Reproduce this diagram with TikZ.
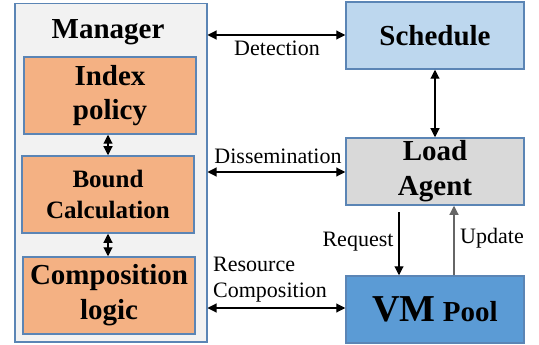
\documentclass[tikz,border=0pt]{standalone}
\usepackage{fontspec}
\setmainfont{Liberation Serif}
\usetikzlibrary{arrows.meta}
\definecolor{mgrfill}{HTML}{F2F2F2}
\definecolor{edge}{HTML}{5B85B5}
\definecolor{orangefill}{HTML}{F4B183}
\definecolor{schedfill}{HTML}{BDD7EE}
\definecolor{loadfill}{HTML}{D9D9D9}
\definecolor{vmfill}{HTML}{5B9BD5}
\tikzset{
  box/.style={draw=edge, line width=1.5pt, inner sep=0pt, align=center, font=\bfseries\fontsize{29}{33}\selectfont},
  lbl/.style={font=\fontsize{22}{26}\selectfont, inner sep=0pt},
  conn/.style={line width=1.1pt, -{Triangle[length=9pt,width=9pt]}},
  bconn/.style={line width=1.1pt, {Triangle[length=9pt,width=9pt]}-{Triangle[length=9pt,width=9pt]}},
}
\begin{document}
\begin{tikzpicture}[x=1pt,y=-1pt]
\useasboundingbox (0,0) rectangle (539,345);
% Manager
\node[box, fill=mgrfill, minimum width=192pt, minimum height=338pt, anchor=north west] (mgr) at (14,3) {};
\node[font=\bfseries\fontsize{29}{33}\selectfont, inner sep=0pt] (mgrlbl) at (108,32) {Manager};
\node[box, fill=orangefill, minimum width=172pt, minimum height=77pt] (idx) at (110,95.5) {Index\\[1pt]policy};
\node[box, fill=orangefill, minimum width=172pt, minimum height=77pt, font=\bfseries\fontsize{25}{31}\selectfont] (bnd) at (108,194.5) {Bound\\Calculation};
\node[box, fill=orangefill, minimum width=172pt, minimum height=77pt] (cmp) at (109,295.5) {Composition\\[2pt]logic};
% Right side
\node[box, fill=schedfill, minimum width=178pt, minimum height=67pt] (sch) at (435,35.5) {Schedule};
\node[box, fill=loadfill, minimum width=178pt, minimum height=67pt] (load) at (435,171.5) {Load\\[2pt]Agent};
\node[box, fill=vmfill, minimum width=178pt, minimum height=67pt] (vm) at (435,309.5) {{\fontsize{38}{40}\selectfont VM} Pool};
% internal arrows
\draw[bconn] (idx.south -| 108,0) -- (bnd.north -| 108,0);
\draw[bconn] (bnd.south) -- (cmp.north -| 108,0);
\draw[bconn] (sch.south) -- (load.north);
% horizontal connectors
\draw[bconn] (mgr.east |- 0,35) -- (sch.west |- 0,35);
\node[lbl] (det) at (277,48) {Detection};
\draw[bconn] (mgr.east |- 0,172) -- (load.west |- 0,172);
\node[lbl] (dis) at (278,156) {Dissemination};
\draw[bconn] (mgr.east |- 0,308) -- (vm.west |- 0,308);
\node[lbl, align=left, anchor=west] (res) at (213,279.5) {Resource\\Composition};
% request / update
\coordinate (rq) at (399,212);
\draw[conn] (rq) -- (vm.north -| 399,0);
\node[lbl] (req) at (358,242) {Request};
\draw[conn, draw=gray!80!black] (vm.north -| 454,0) -- (load.south -| 454,0);
\node[lbl] (upd) at (492,238) {Update};
\end{tikzpicture}
\end{document}
